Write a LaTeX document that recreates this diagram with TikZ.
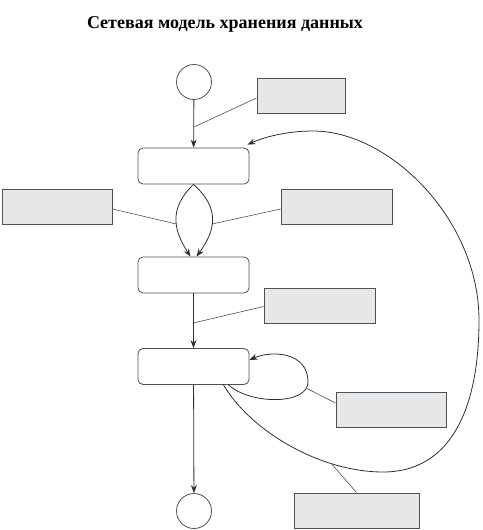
\documentclass[tikz,border=0pt]{standalone}
\usepackage{fontspec}
\setmainfont{Liberation Serif}
\usetikzlibrary{arrows.meta}
\definecolor{linegray}{HTML}{505050}
\definecolor{notegray}{HTML}{E6E7E8}
\definecolor{arrowgray}{HTML}{303030}

\begin{document}
\begin{tikzpicture}[>={Stealth[length=8pt,width=6pt]}, x=1pt, y=-1pt,
  state/.style={draw=linegray, rounded corners=5pt, minimum width=111pt, minimum height=36pt, line width=0.8pt},
  term/.style={draw=linegray, circle, minimum size=35pt, inner sep=0pt, line width=0.8pt},
  note/.style={draw=linegray, fill=notegray, minimum width=#1, minimum height=35pt, inner sep=0pt, line width=0.9pt},
  flow/.style={->, draw=arrowgray, line width=0.8pt},
  hint/.style={draw=linegray, line width=0.6pt}]
  \useasboundingbox (0,0) rectangle (482,530);

  \node[font=\bfseries\fontsize{18}{21}\selectfont] (title) at (225,24) {Сетевая модель хранения данных};

  % states
  \node[term] (start) at (194,82) {};
  \node[state] (s1) at (193.5,166) {};
  \node[state] (s2) at (193.5,275) {};
  \node[state] (s3) at (193.5,366.5) {};
  \node[term] (stop) at (194,511) {};

  % notes
  \node[note=88pt] (n1) at (301,95.5) {};
  \node[note=110pt] (n2) at (57,206.5) {};
  \node[note=111pt] (n3) at (336.5,206.5) {};
  \node[note=111pt] (n4) at (319.5,305.5) {};
  \node[note=110pt] (n5) at (391,409.5) {};
  \node[note=125pt] (n6) at (356.5,510.5) {};

  % transitions
  \draw[flow] (start) -- coordinate[pos=0.57] (a1) (s1);
  \draw[flow] (s1.south) .. controls +(-26,25) and +(-16,-25) .. coordinate[pos=0.55] (a2) ([xshift=-3pt]s2.north);
  \draw[flow] (s1.south) .. controls +(28,25) and +(18,-25) .. coordinate[pos=0.55] (a3) ([xshift=3pt]s2.north);
  \draw[flow] (s2) -- coordinate[pos=0.54] (a4) (s3);
  \draw[flow] ([xshift=35pt]s3.south) .. controls +(22,20) and +(0,23) .. coordinate[pos=0.9] (a5) (308,382)
    .. controls (308,352) and (272,350) .. ([yshift=6.5pt]s3.east);
  \draw[flow] ([xshift=30pt]s3.south) .. controls +(27,46) and (320,472) .. coordinate[pos=0.73] (a6) (383,472)
    .. controls (450,472) and (479,410) .. (479,320)
    .. controls (479,220) and (390,131) .. (313,131)
    .. controls (285,131) and (262,138) .. ([shift={(-2pt,3pt)}]s1.north east);
  \draw[flow] (s3) -- (stop);

  % note lines
  \draw[hint] ([yshift=-2.5pt]n1.west) -- (a1);
  \draw[hint] ([yshift=-2.5pt]n2.east) -- (a2);
  \draw[hint] ([yshift=-2.5pt]n3.west) -- (a3);
  \draw[hint] ([yshift=-1pt]n4.west) -- (a4);
  \draw[hint] ([yshift=6.5pt]n5.west) -- (a5);
  \draw[hint] (n6.north) -- (a6);
\end{tikzpicture}
\end{document}
